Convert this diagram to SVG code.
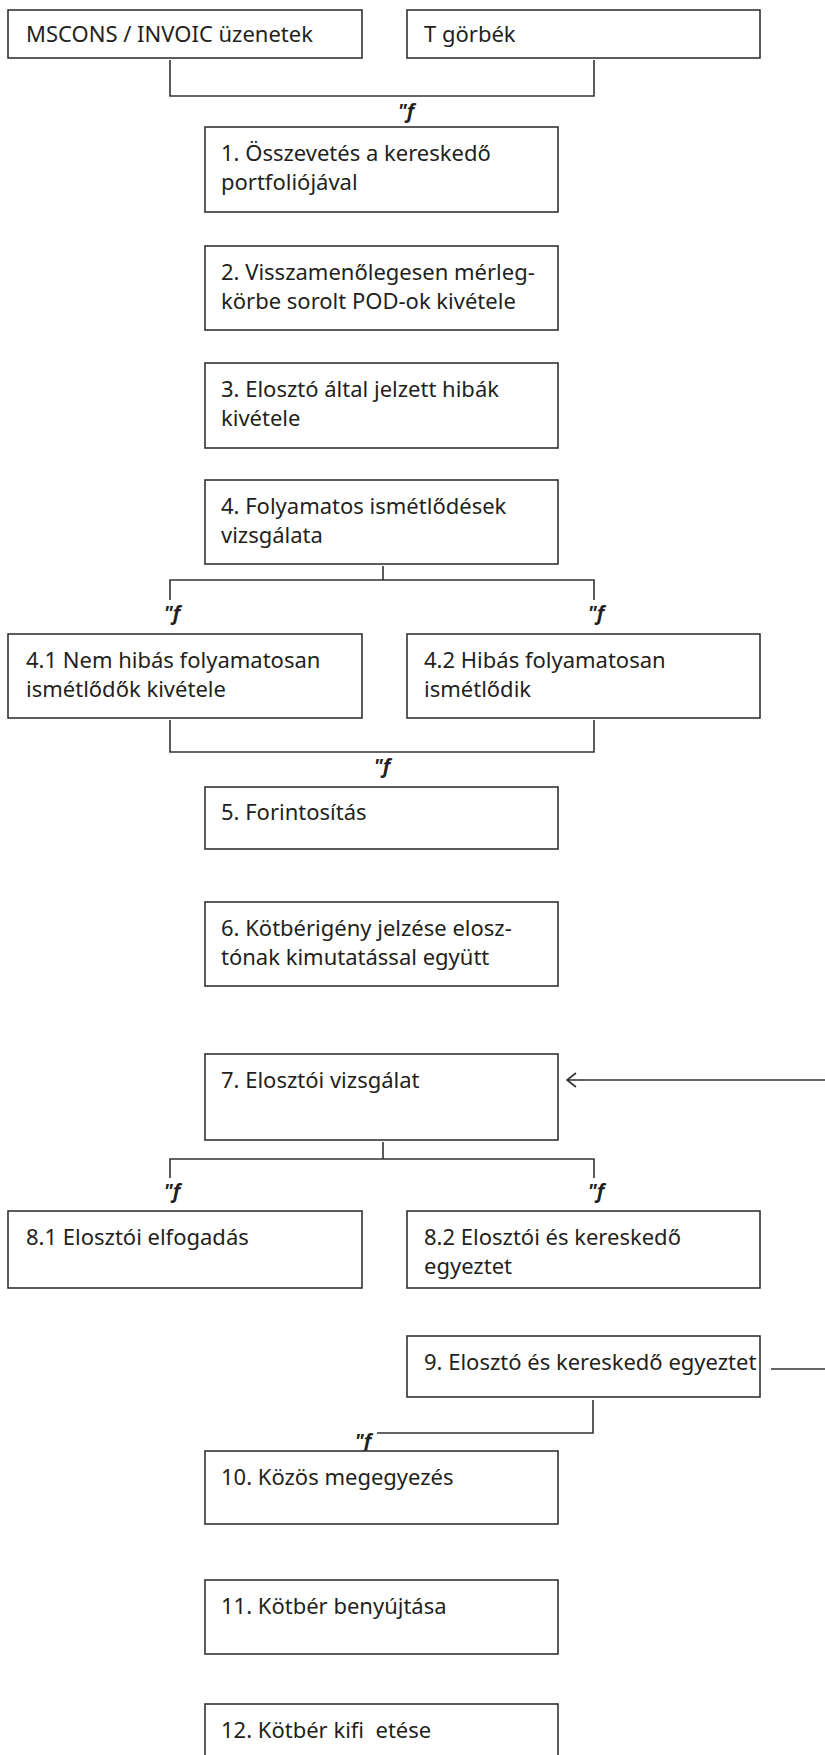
<svg xmlns="http://www.w3.org/2000/svg" width="825" height="1755" viewBox="0 0 825 1755">
<defs>
<style>
.box{fill:#fff;stroke:#333;stroke-width:1.6}
.t{font-family:"Noto Sans","Open Sans",sans-serif;font-size:22px;fill:#231f20}
.c{fill:none;stroke:#333;stroke-width:1.6}
.f{font-family:"Noto Sans","Liberation Sans",sans-serif;font-size:20px;font-weight:bold;font-style:italic;fill:#231f20;text-anchor:middle}
</style>
</defs>
<rect width="825" height="1755" fill="#fff"/>

<g id="connectors">
<path class="c" d="M170,60 V96 H594 V60"/>
<text class="f" x="406" y="118">"f</text>
<path class="c" d="M383,566 V580 M170,600 V580 H594 V600"/>
<text class="f" x="172" y="620">"f</text>
<text class="f" x="596" y="620">"f</text>
<path class="c" d="M170,720 V752 H594 V720"/>
<text class="f" x="382" y="773">"f</text>
<path class="c" d="M825,1080 H567 M576,1073 L567,1080 L576,1087"/>
<path class="c" d="M383,1142 V1159 M170,1178 V1159 H594 V1178"/>
<text class="f" x="172" y="1198">"f</text>
<text class="f" x="596" y="1198">"f</text>
<path class="c" d="M771,1369 H825"/>
<path class="c" d="M593,1400 V1433 H377"/>
<text class="f" x="363" y="1448">"f</text>
</g>

<g id="n-mscons"><rect class="box" x="8" y="10" width="354" height="48"/><text class="t" x="26" y="42">MSCONS / INVOIC üzenetek</text></g>
<g id="n-tgorbek"><rect class="box" x="407" y="10" width="353" height="48"/><text class="t" x="424" y="42">T görbék</text></g>
<g id="n1"><rect class="box" x="205" y="127" width="353" height="85"/><text class="t" x="221" y="161">1. Összevetés a kereskedő</text><text class="t" x="221" y="190">portfoliójával</text></g>
<g id="n2"><rect class="box" x="205" y="246" width="353" height="84"/><text class="t" x="221" y="280">2. Visszamenőlegesen mérleg-</text><text class="t" x="221" y="309">körbe sorolt POD-ok kivétele</text></g>
<g id="n3"><rect class="box" x="205" y="363" width="353" height="85"/><text class="t" x="221" y="397">3. Elosztó által jelzett hibák</text><text class="t" x="221" y="426">kivétele</text></g>
<g id="n4"><rect class="box" x="205" y="480" width="353" height="84"/><text class="t" x="221" y="514">4. Folyamatos ismétlődések</text><text class="t" x="221" y="543">vizsgálata</text></g>
<g id="n41"><rect class="box" x="8" y="634" width="354" height="84"/><text class="t" x="26" y="668">4.1 Nem hibás folyamatosan</text><text class="t" x="26" y="697">ismétlődők kivétele</text></g>
<g id="n42"><rect class="box" x="407" y="634" width="353" height="84"/><text class="t" x="424" y="668">4.2 Hibás folyamatosan</text><text class="t" x="424" y="697">ismétlődik</text></g>
<g id="n5"><rect class="box" x="205" y="787" width="353" height="62"/><text class="t" x="221" y="820">5. Forintosítás</text></g>
<g id="n6"><rect class="box" x="205" y="902" width="353" height="84"/><text class="t" x="221" y="936">6. Kötbérigény jelzése elosz-</text><text class="t" x="221" y="965">tónak kimutatással együtt</text></g>
<g id="n7"><rect class="box" x="205" y="1054" width="353" height="86"/><text class="t" x="221" y="1088">7. Elosztói vizsgálat</text></g>
<g id="n81"><rect class="box" x="8" y="1211" width="354" height="77"/><text class="t" x="26" y="1245">8.1 Elosztói elfogadás</text></g>
<g id="n82"><rect class="box" x="407" y="1211" width="353" height="77"/><text class="t" x="424" y="1245">8.2 Elosztói és kereskedő</text><text class="t" x="424" y="1274">egyeztet</text></g>
<g id="n9"><rect class="box" x="407" y="1336" width="353" height="61"/><text class="t" x="424" y="1370">9. Elosztó és kereskedő egyeztet</text></g>
<g id="n10"><rect class="box" x="205" y="1451" width="353" height="73"/><text class="t" x="221" y="1485">10. Közös megegyezés</text></g>
<g id="n11"><rect class="box" x="205" y="1580" width="353" height="74"/><text class="t" x="221" y="1614">11. Kötbér benyújtása</text></g>
<g id="n12"><rect class="box" x="205" y="1704" width="353" height="70"/><text class="t" x="221" y="1738" style="white-space:pre">12. Kötbér kifi  etése</text></g>
</svg>
